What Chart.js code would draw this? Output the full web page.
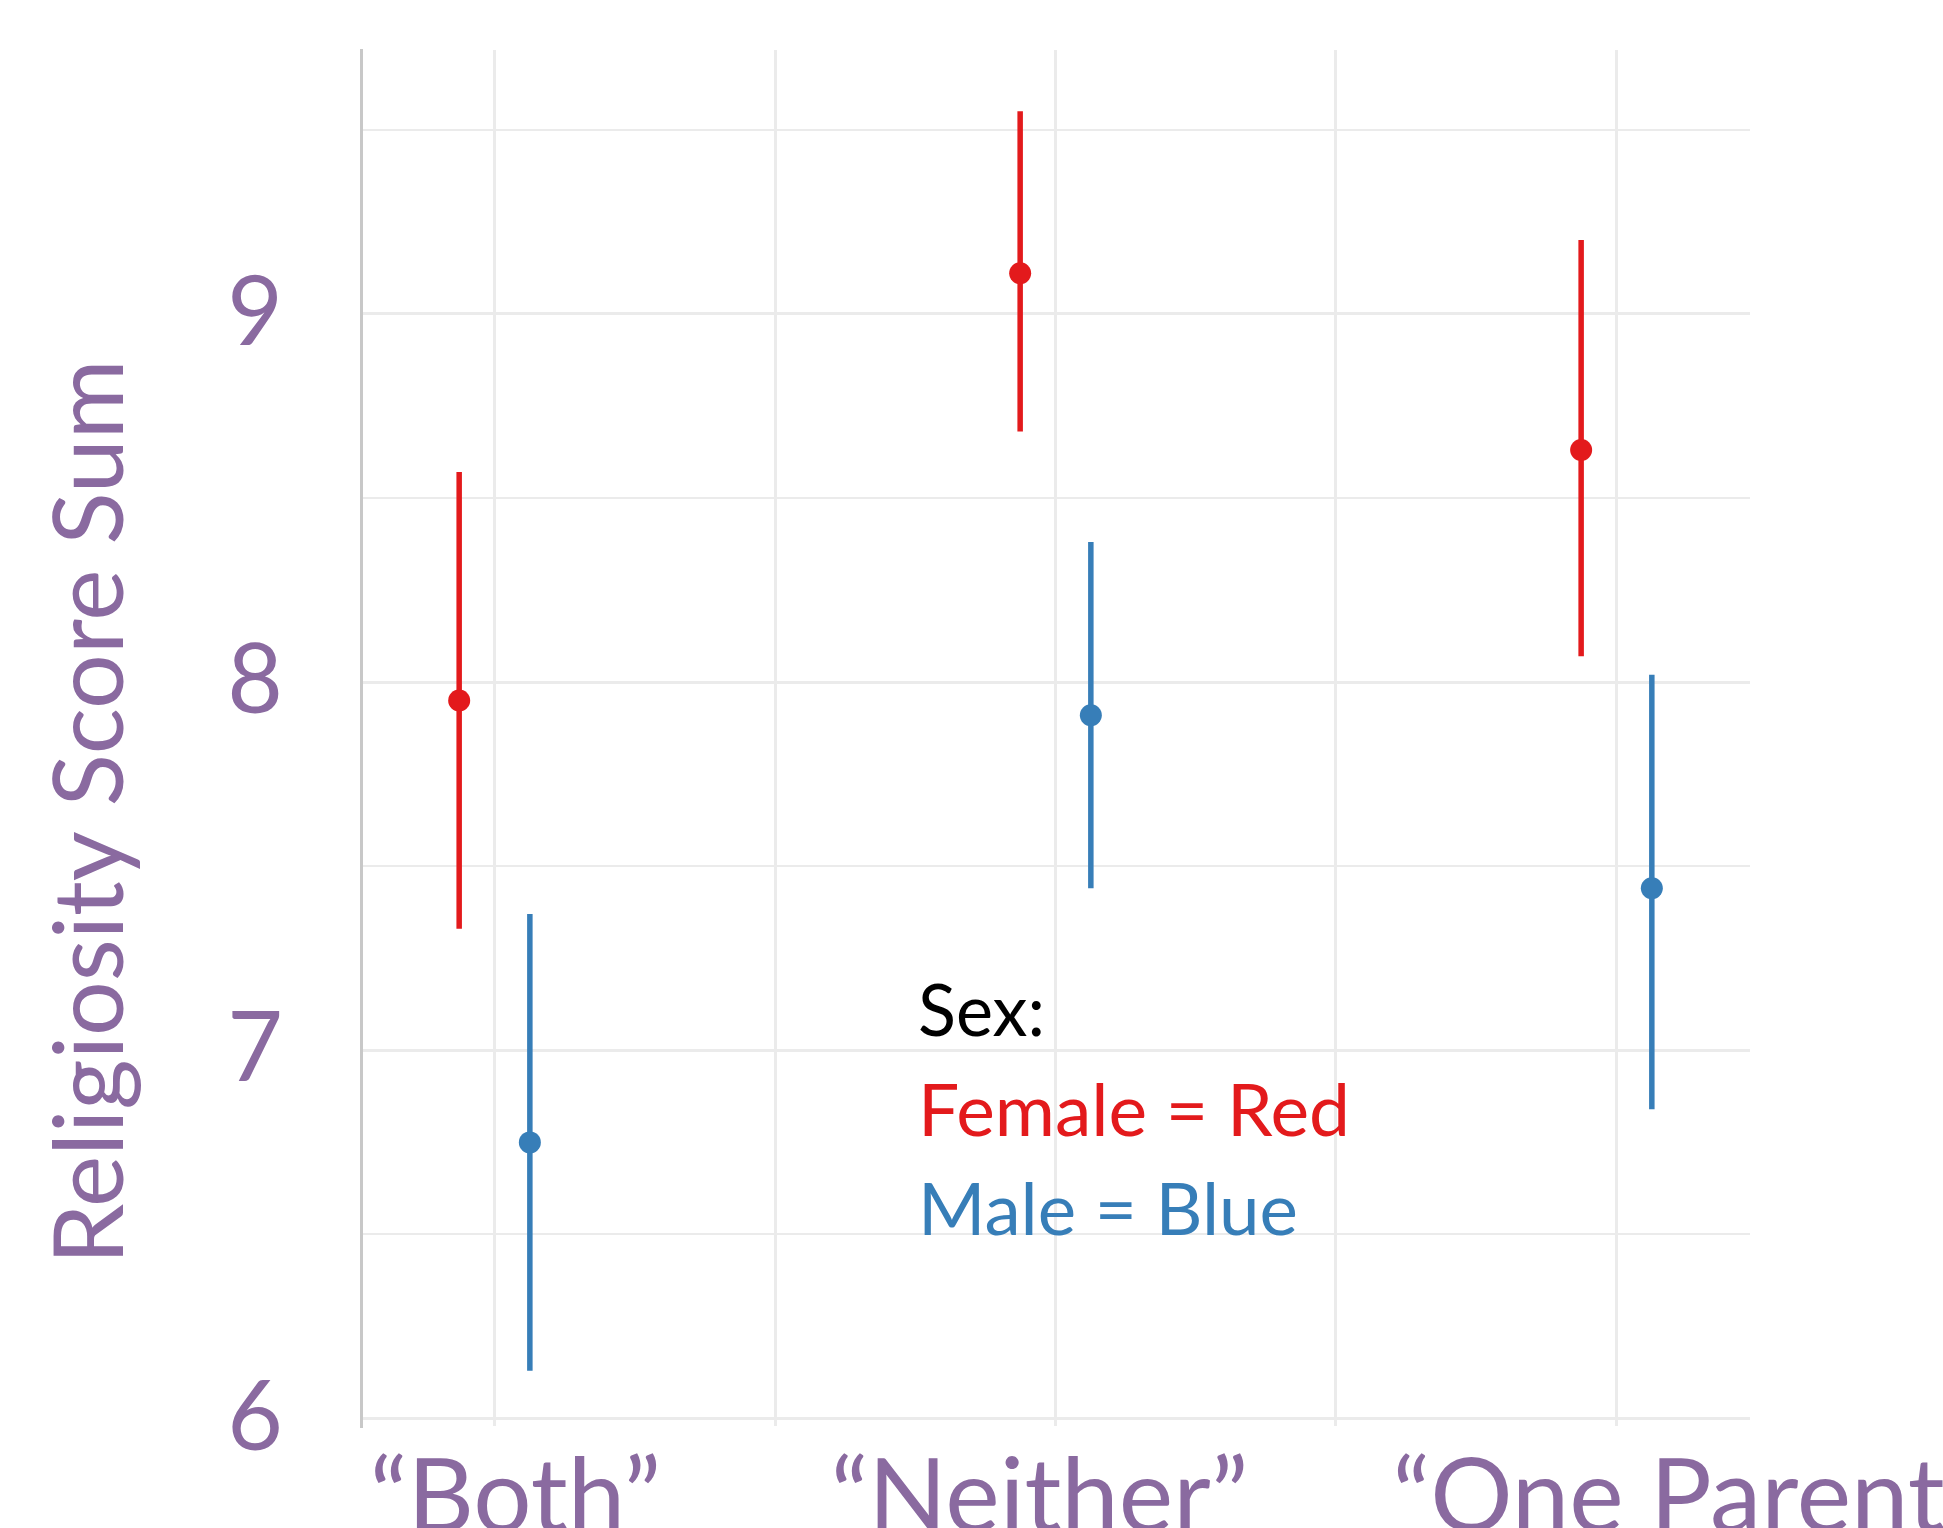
<!DOCTYPE html>
<html lang="en">
<head>
  <meta charset="UTF-8" />
  <title>Religiosity Score Sum</title>
  <script src="https://cdn.jsdelivr.net/npm/chart.js"></script>
  <style>
    html, body { margin: 0; padding: 0; background: #fff; overflow: hidden; }
    #wrap { width: 1943px; height: 1640px; }
  </style>
</head>
<body>
  <div id="wrap">
    <canvas id="grafico" width="1943" height="1640"></canvas>
  </div>

  <script>
    // categorias e valores
    var categorias = ['\u201CBoth\u201D', '\u201CNeither\u201D', '\u201COne Parent\u201D'];
    var femMedia = [7.95, 9.11, 8.63];
    var femBaixo = [7.33, 8.68, 8.07];
    var femAlto  = [8.57, 9.55, 9.20];
    var mascMedia = [6.75, 7.91, 7.44];
    var mascBaixo = [6.13, 7.44, 6.84];
    var mascAlto  = [7.37, 8.38, 8.02];
    var yTicks = [6, 7, 8, 9];

    var roxo = '#8A6AA0';
    var vermelho = '#E31A1C';
    var azul = '#377EB8';
    var desloc = 0.063;
    // deslocamento horizontal dos rotulos das categorias (px)
    var ajusteRotulo = [21, -16, 71];

    function pontos(medias, d) {
      var lista = [];
      for (var i = 0; i < medias.length; i++) {
        lista.push({ x: i + d, y: medias[i] });
      }
      return lista;
    }

    function barras(baixos, altos, d) {
      var lista = [];
      for (var i = 0; i < baixos.length; i++) {
        lista.push({ x: i + d, y: baixos[i] });
        lista.push({ x: i + d, y: altos[i] });
        lista.push({ x: i + d, y: null });
      }
      return lista;
    }

    function textoLargura(ctx, txt, x, y, largura) {
      var w = ctx.measureText(txt).width;
      ctx.save();
      ctx.translate(x, y);
      ctx.scale(largura / w, 1);
      ctx.fillText(txt, 0, 0);
      ctx.restore();
    }

    // rotulos do eixo x, titulo do eixo y e legenda
    var textos = {
      id: 'textos',
      afterDraw: function(chart) {
        var ctx = chart.ctx;
        var escalaX = chart.scales.x;

        ctx.save();
        ctx.fillStyle = roxo;
        ctx.font = '103px Lato';
        ctx.textAlign = 'center';
        ctx.textBaseline = 'alphabetic';
        for (var i = 0; i < categorias.length; i++) {
          ctx.fillText(categorias[i], escalaX.getPixelForValue(i) + ajusteRotulo[i], 1532);
        }
        ctx.restore();

        ctx.save();
        ctx.fillStyle = roxo;
        ctx.font = '97px Lato';
        ctx.textAlign = 'center';
        ctx.textBaseline = 'alphabetic';
        ctx.translate(123, 812);
        ctx.rotate(-Math.PI / 2);
        ctx.fillText('Religiosity Score Sum', 0, 0, 905);
        ctx.restore();

        ctx.save();
        ctx.font = '72px Lato';
        ctx.textAlign = 'left';
        ctx.textBaseline = 'alphabetic';
        ctx.fillStyle = '#000';
        textoLargura(ctx, 'Sex:', 918, 1036, 127);
        ctx.fillStyle = vermelho;
        textoLargura(ctx, 'Female = Red', 918, 1136, 432);
        ctx.fillStyle = azul;
        textoLargura(ctx, 'Male = Blue', 918, 1235, 380);
        ctx.restore();
      }
    };

    new Chart(document.getElementById('grafico'), {
      type: 'scatter',
      data: {
        datasets: [
          {
            label: 'Female',
            data: pontos(femMedia, -desloc),
            backgroundColor: vermelho,
            borderWidth: 0,
            pointRadius: 11,
            order: 0
          },
          {
            label: 'Male',
            data: pontos(mascMedia, desloc),
            backgroundColor: azul,
            borderWidth: 0,
            pointRadius: 11,
            order: 0
          },
          {
            label: 'Female CI',
            data: barras(femBaixo, femAlto, -desloc),
            showLine: true,
            spanGaps: false,
            borderColor: vermelho,
            borderWidth: 5.5,
            pointRadius: 0,
            order: 1
          },
          {
            label: 'Male CI',
            data: barras(mascBaixo, mascAlto, desloc),
            showLine: true,
            spanGaps: false,
            borderColor: azul,
            borderWidth: 5.5,
            pointRadius: 0,
            order: 1
          }
        ]
      },
      options: {
        responsive: false,
        animation: false,
        events: [],
        layout: { padding: { left: 0, top: 50, right: 193, bottom: 0 } },
        plugins: {
          legend: { display: false },
          tooltip: { enabled: false }
        },
        scales: {
          x: {
            type: 'linear',
            min: -0.238,
            max: 2.238,
            afterFit: function(scale) {
              scale.height = 214;
              scale.paddingLeft = 0;
              scale.paddingRight = 0;
            },
            border: { display: false },
            grid: {
              color: '#EBEBEB',
              lineWidth: 3,
              drawTicks: false
            },
            ticks: {
              stepSize: 0.5,
              includeBounds: false,
              autoSkip: false,
              maxRotation: 0,
              font: { family: 'Lato', size: 10 },
              callback: function() { return ''; }
            }
          },
          y: {
            min: 5.98,
            max: 9.716,
            afterFit: function(scale) {
              scale.width = 361;
              scale.paddingTop = 0;
              scale.paddingBottom = 0;
            },
            border: { display: true, color: '#C8C8C8', width: 3 },
            grid: {
              color: '#EBEBEB',
              lineWidth: function(c) { return Number.isInteger(c.tick.value) ? 3 : 2; },
              drawTicks: false
            },
            ticks: {
              stepSize: 0.5,
              includeBounds: false,
              padding: 78,
              color: roxo,
              font: { family: 'Lato', size: 96 },
              callback: function(v) {
                return yTicks.indexOf(v) >= 0 ? String(v) : '';
              }
            }
          }
        }
      },
      plugins: [textos]
    });
  </script>
</body>
</html>
